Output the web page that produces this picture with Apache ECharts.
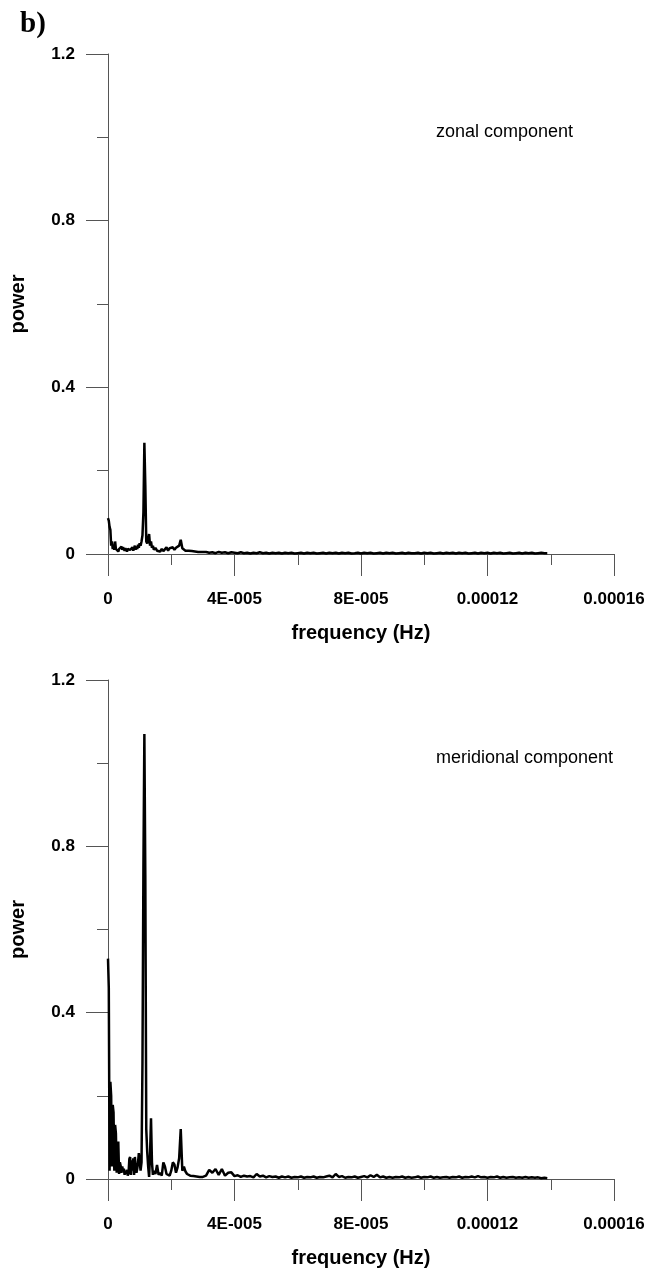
<!DOCTYPE html>
<html lang="en">
<head>
    <meta charset="UTF-8">
    <title>power spectra</title>
    <script src="https://cdn.jsdelivr.net/npm/echarts@6/dist/echarts.min.js"></script>
    <style>
        html, body { margin: 0; padding: 0; background: #fff; }
    </style>
</head>
<body>
    <div id="main" style="width: 650px;height:1269px;"></div>
    <script type="text/javascript">
        // frequencies in micro-Hz (converted to Hz when building the series)
        const freqMicroHz = [
            0, 0.25, 0.5, 0.75, 1.0, 1.25, 1.5, 1.75, 2.0, 2.25,
            2.5, 2.75, 3.0, 3.25, 3.5, 3.75, 4.0, 4.25, 4.5, 4.75,
            5.0, 5.25, 5.5, 5.75, 6.0, 6.25, 6.5, 6.75, 7.0, 7.25,
            7.5, 7.75, 8.0, 8.25, 8.5, 8.75, 9.0, 9.25, 9.5, 9.75,
            10.0,
            10.3, 10.6, 10.9, 11.2, 11.5, 11.8, 12.1, 12.4, 12.7, 13.0,
            13.3, 13.6, 13.9, 14.2,
            14.5, 15.0, 15.5, 16.0, 16.5, 17.0, 17.5, 18.0, 18.5, 19.0,
            19.5, 20.0, 20.5, 21.0, 21.5, 22.0, 22.5, 23.0, 23.5, 24.0,
            24.5, 25.0, 25.5, 26.0, 26.5, 27.0, 27.5, 28.0, 28.5, 29.0,
            29.5, 30.0,
            31, 32, 33, 34, 35, 36, 37, 38, 39, 40,
            41, 42, 43, 44, 45, 46, 47, 48, 49, 50,
            51, 52, 53, 54, 55, 56, 57, 58, 59, 60,
            61, 62, 63, 64, 65, 66, 67, 68, 69, 70,
            71, 72, 73, 74, 75, 76, 77, 78, 79, 80,
            81, 82, 83, 84, 85, 86, 87, 88, 89, 90,
            91, 92, 93, 94, 95, 96, 97, 98, 99, 100,
            101, 102, 103, 104, 105, 106, 107, 108, 109, 110,
            111, 112, 113, 114, 115, 116, 117, 118, 119, 120,
            121, 122, 123, 124, 125, 126, 127, 128, 129, 130,
            131, 132, 133, 134, 135, 136, 137, 138, 138.9
        ];

        const zonalPower = [
            0.086, 0.08, 0.065, 0.058, 0.02, 0.03, 0.012, 0.022, 0.01, 0.03,
            0.012, 0.008, 0.014, 0.006, 0.012, 0.015, 0.008, 0.018, 0.01, 0.016,
            0.012, 0.008, 0.014, 0.01, 0.006, 0.012, 0.008, 0.015, 0.01, 0.006,
            0.012, 0.016, 0.008, 0.012, 0.02, 0.01, 0.018, 0.012, 0.022, 0.015,
            0.026,
            0.02, 0.03, 0.045, 0.1, 0.267, 0.165, 0.03, 0.025, 0.035, 0.048,
            0.02, 0.03, 0.015, 0.02,
            0.01, 0.015, 0.008, 0.012, 0.006, 0.012, 0.007, 0.01, 0.016, 0.008,
            0.014, 0.012, 0.016, 0.01, 0.015, 0.012, 0.02, 0.034, 0.014, 0.01,
            0.008, 0.006, 0.008, 0.005, 0.007, 0.004, 0.006, 0.004, 0.005, 0.004,
            0.005, 0.003,
            0.005, 0.003, 0.004, 0.002, 0.005, 0.003, 0.004, 0.002, 0.004, 0.003,
            0.002, 0.004, 0.002, 0.003, 0.001, 0.003, 0.002, 0.004, 0.002, 0.003,
            0.001, 0.003, 0.002, 0.003, 0.001, 0.003, 0.002, 0.003, 0.001, 0.002,
            0.003, 0.001, 0.003, 0.002, 0.003, 0.001, 0.002, 0.003, 0.001, 0.003,
            0.002, 0.003, 0.001, 0.003, 0.002, 0.003, 0.001, 0.002, 0.003, 0.001,
            0.003, 0.002, 0.003, 0.001, 0.002, 0.003, 0.001, 0.003, 0.002, 0.003,
            0.001, 0.002, 0.003, 0.001, 0.003, 0.002, 0.002, 0.003, 0.001, 0.003,
            0.002, 0.003, 0.001, 0.002, 0.003, 0.001, 0.003, 0.002, 0.003, 0.001,
            0.003, 0.002, 0.003, 0.001, 0.002, 0.003, 0.001, 0.003, 0.002, 0.003,
            0.001, 0.003, 0.002, 0.003, 0.001, 0.002, 0.003, 0.001, 0.002, 0.003,
            0.001, 0.003, 0.002, 0.003, 0.001, 0.002, 0.003, 0.002, 0.002
        ];

        const meridionalPower = [
            0.53, 0.46, 0.02, 0.234, 0.2, 0.03, 0.178, 0.16, 0.02, 0.13,
            0.11, 0.015, 0.06, 0.09, 0.012, 0.04, 0.032, 0.015, 0.03, 0.02,
            0.025, 0.01, 0.02, 0.012, 0.022, 0.008, 0.015, 0.048, 0.053, 0.01,
            0.045, 0.02, 0.05, 0.01, 0.053, 0.03, 0.015, 0.025, 0.04, 0.062,
            0.06,
            0.02, 0.04, 0.28, 0.75, 1.07, 0.73, 0.12, 0.065, 0.03, 0.005,
            0.06, 0.146, 0.04, 0.01,
            0.02, 0.012, 0.034, 0.01, 0.015, 0.008, 0.04, 0.03, 0.012, 0.015,
            0.008, 0.02, 0.04, 0.035, 0.015, 0.028, 0.05, 0.12, 0.02, 0.03,
            0.018, 0.012, 0.015, 0.008, 0.012, 0.007, 0.01, 0.006, 0.008, 0.005,
            0.007, 0.005,
            0.008, 0.022, 0.015, 0.024, 0.01, 0.024, 0.008, 0.015, 0.016, 0.007,
            0.009, 0.005, 0.008, 0.006, 0.007, 0.004, 0.012, 0.006, 0.008, 0.004,
            0.007, 0.005, 0.006, 0.003, 0.006, 0.004, 0.006, 0.003, 0.005, 0.004,
            0.006, 0.003, 0.005, 0.004, 0.006, 0.003, 0.005, 0.004, 0.006, 0.008,
            0.004, 0.012, 0.005, 0.007, 0.003, 0.005, 0.004, 0.006, 0.003, 0.005,
            0.007, 0.004, 0.009, 0.005, 0.01, 0.004, 0.006, 0.003, 0.005, 0.003,
            0.005, 0.004, 0.006, 0.003, 0.005, 0.003, 0.004, 0.006, 0.003, 0.005,
            0.004, 0.006, 0.003, 0.005, 0.003, 0.004, 0.005, 0.003, 0.005, 0.004,
            0.006, 0.003, 0.005, 0.004, 0.006, 0.004, 0.007, 0.004, 0.005, 0.003,
            0.005, 0.004, 0.006, 0.003, 0.005, 0.003, 0.004, 0.005, 0.003, 0.004,
            0.003, 0.005, 0.003, 0.004, 0.003, 0.004, 0.002, 0.003, 0.002
        ];

        const xTickLabels = ['0', '4E-005', '8E-005', '0.00012', '0.00016'];
        const yTickLabels = ['0', '0.4', '0.8', '1.2'];
        const panelNames = ['zonal component', 'meridional component'];

        const toPairs = (vals) => freqMicroHz.map((f, i) => [f * 1e-6, vals[i]]);

        let myChart = echarts.init(document.getElementById('main'));

        const axisColor = '#555';
        const fontFamily = '"Liberation Sans", Arial, sans-serif';

        function makeXAxis(gridIndex) {
            return {
                type: 'value',
                gridIndex: gridIndex,
                min: 0,
                max: 1.6e-4,
                interval: 4e-5,
                name: 'frequency (Hz)',
                nameLocation: 'middle',
                nameGap: 69,
                nameTextStyle: { fontFamily: fontFamily, fontWeight: 'bold', fontSize: 20, color: '#000' },
                axisLine: { lineStyle: { color: axisColor, width: 1 } },
                axisTick: { length: 22, lineStyle: { color: axisColor } },
                minorTick: { show: true, splitNumber: 2, length: 11, lineStyle: { color: axisColor } },
                splitLine: { show: false },
                axisLabel: {
                    margin: 37,
                    fontFamily: fontFamily, fontWeight: 'bold', fontSize: 17, color: '#000',
                    formatter: (v) => xTickLabels[Math.round(v / 4e-5)]
                }
            };
        }

        function makeYAxis(gridIndex) {
            return {
                type: 'value',
                gridIndex: gridIndex,
                min: 0,
                max: 1.2,
                interval: 0.4,
                name: 'power',
                nameLocation: 'middle',
                nameGap: 80,
                nameTextStyle: { fontFamily: fontFamily, fontWeight: 'bold', fontSize: 20, color: '#000' },
                axisLine: { show: true, lineStyle: { color: axisColor, width: 1 } },
                axisTick: { show: true, length: 22, lineStyle: { color: axisColor } },
                minorTick: { show: true, splitNumber: 2, length: 11, lineStyle: { color: axisColor } },
                splitLine: { show: false },
                axisLabel: {
                    margin: 33,
                    fontFamily: fontFamily, fontWeight: 'bold', fontSize: 17, color: '#000',
                    formatter: (v) => yTickLabels[Math.round(v / 0.4)]
                }
            };
        }

        let options = {
            animation: false,
            backgroundColor: '#fff',
            grid: [
                { left: 108, width: 506, top: 54, height: 500 },
                { left: 108, width: 506, top: 680, height: 500 }
            ],
            xAxis: [makeXAxis(0), makeXAxis(1)],
            yAxis: [makeYAxis(0), makeYAxis(1)],
            graphic: [
                { type: 'text', left: 20, top: 10,
                  style: { text: 'b)', font: 'bold 29px "Liberation Serif", "Times New Roman", serif', fill: '#000' } },
                { type: 'text', left: 436, top: 123,
                  style: { text: panelNames[0], font: '18px "Liberation Sans", Arial, sans-serif', fill: '#000' } },
                { type: 'text', left: 436, top: 749,
                  style: { text: panelNames[1], font: '18px "Liberation Sans", Arial, sans-serif', fill: '#000' } }
            ],
            series: [
                {
                    name: panelNames[0], type: 'line', xAxisIndex: 0, yAxisIndex: 0,
                    data: toPairs(zonalPower), showSymbol: false, sampling: null,
                    lineStyle: { color: '#000', width: 2.5 }
                },
                {
                    name: panelNames[1], type: 'line', xAxisIndex: 1, yAxisIndex: 1,
                    data: toPairs(meridionalPower), showSymbol: false, sampling: null,
                    lineStyle: { color: '#000', width: 2.5 }
                }
            ]
        };

        myChart.setOption(options);
    </script>
</body>
</html>
